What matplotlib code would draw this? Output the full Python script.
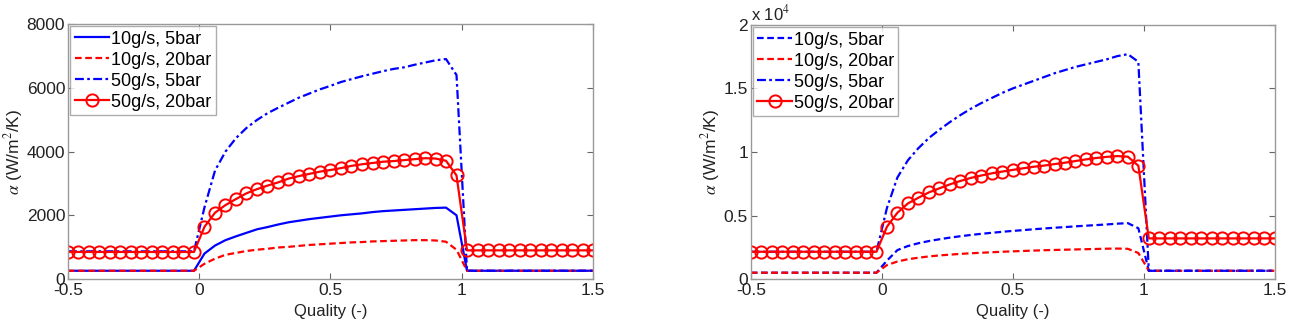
import matplotlib
matplotlib.use("Agg")
import matplotlib.pyplot as plt
import numpy as np

plt.rcParams['font.family'] = ['Liberation Sans', 'DejaVu Sans']
plt.rcParams['mathtext.fontset'] = 'stix'

# --- DATI ---
qualita = np.linspace(-0.5, 1.5, 51)

# pannello sinistro
sx_10g_5bar = [
    260, 260, 260, 260, 260, 260, 260, 260, 260, 260, 260, 260, 260,
    800, 1050, 1220, 1340, 1450, 1560, 1630, 1710, 1780, 1830, 1880, 1920,
    1960, 2000, 2030, 2060, 2100, 2130, 2150, 2170, 2190, 2210, 2230, 2240, 2000,
    260, 260, 260, 260, 260, 260, 260, 260, 260, 260, 260, 260, 260]
sx_10g_20bar = [
    260, 260, 260, 260, 260, 260, 260, 260, 260, 260, 260, 260, 260,
    480, 640, 760, 820, 880, 920, 950, 990, 1010, 1040, 1070, 1090,
    1110, 1130, 1150, 1160, 1180, 1190, 1200, 1210, 1220, 1220, 1210, 1170, 920,
    260, 260, 260, 260, 260, 260, 260, 260, 260, 260, 260, 260, 260]
sx_50g_5bar = [
    870, 870, 870, 870, 870, 870, 870, 870, 870, 870, 870, 870, 870,
    2250, 3400, 4000, 4420, 4740, 4990, 5200, 5370, 5530, 5690, 5820, 5950,
    6060, 6180, 6270, 6360, 6440, 6520, 6590, 6640, 6720, 6790, 6860, 6900, 6400,
    260, 260, 260, 260, 260, 260, 260, 260, 260, 260, 260, 260, 260]
sx_50g_20bar = [
    850, 850, 850, 850, 850, 850, 850, 850, 850, 850, 850, 850, 850,
    1640, 2080, 2320, 2510, 2690, 2820, 2930, 3030, 3150, 3230, 3300, 3370,
    3420, 3480, 3550, 3600, 3640, 3680, 3700, 3730, 3760, 3790, 3780, 3710, 3250,
    900, 900, 900, 900, 900, 900, 900, 900, 900, 900, 900, 900, 900]

# pannello destro
dx_10g_5bar = [
    500, 500, 500, 500, 500, 500, 500, 500, 500, 500, 500, 500, 500,
    1450, 2280, 2600, 2820, 2990, 3130, 3260, 3370, 3470, 3560, 3640, 3720,
    3790, 3850, 3920, 3980, 4040, 4090, 4150, 4200, 4250, 4300, 4360, 4400, 4000,
    650, 650, 650, 650, 650, 650, 650, 650, 650, 650, 650, 650, 650]
dx_10g_20bar = [
    500, 500, 500, 500, 500, 500, 500, 500, 500, 500, 500, 500, 500,
    1100, 1380, 1560, 1680, 1780, 1860, 1920, 1980, 2030, 2070, 2110, 2150,
    2180, 2210, 2240, 2270, 2290, 2310, 2330, 2350, 2370, 2390, 2400, 2380, 2050,
    650, 650, 650, 650, 650, 650, 650, 650, 650, 650, 650, 650, 650]
dx_50g_5bar = [
    2150, 2150, 2150, 2150, 2150, 2150, 2150, 2150, 2150, 2150, 2150, 2150, 2150,
    5600, 8000, 9350, 10300, 11100, 11750, 12350, 12900, 13400, 13850, 14250, 14650,
    15000, 15300, 15600, 15900, 16200, 16450, 16700, 16900, 17100, 17300, 17550, 17700, 17100,
    650, 650, 650, 650, 650, 650, 650, 650, 650, 650, 650, 650, 650]
dx_50g_20bar = [
    2150, 2150, 2150, 2150, 2150, 2150, 2150, 2150, 2150, 2150, 2150, 2150, 2150,
    4120, 5220, 5950, 6400, 6820, 7140, 7450, 7720, 7960, 8150, 8320, 8460,
    8590, 8720, 8840, 8930, 9050, 9160, 9290, 9420, 9530, 9620, 9680, 9630, 8920,
    3200, 3200, 3200, 3200, 3200, 3200, 3200, 3200, 3200, 3200, 3200, 3200, 3200]

etichette = ["10g/s, 5bar", "10g/s, 20bar", "50g/s, 5bar", "50g/s, 20bar"]
x_ticks = [-0.5, 0, 0.5, 1, 1.5]
x_tick_labels = ["-0.5", "0", "0.5", "1", "1.5"]

BLU = '#0000ff'
ROSSO = '#ff0000'
TRATTEGGIO = (0, (3.0, 1.6))
TRATTO_PUNTO = (0, (4.0, 1.5, 1.2, 1.5))
GRIGIO = '#999999'
TESTO = '#222222'


def disegna_pannello(ax, serie, stile_primo, ylim, yticks, ylabels):
    s1, s2, s3, s4 = serie
    ax.plot(qualita, s1, color=BLU, lw=1.6, linestyle=stile_primo)
    ax.plot(qualita, s2, color=ROSSO, lw=1.6, linestyle=TRATTEGGIO)
    ax.plot(qualita, s3, color=BLU, lw=1.6, linestyle=TRATTO_PUNTO)
    ax.plot(qualita, s4, color=ROSSO, lw=1.6, marker='o', markersize=8.8,
            markerfacecolor='none', markeredgewidth=1.4)

    ax.set_xlim(-0.5, 1.5)
    ax.set_ylim(*ylim)
    ax.set_xticks(x_ticks)
    ax.set_xticklabels(x_tick_labels)
    ax.set_yticks(yticks)
    ax.set_yticklabels(ylabels)
    ax.tick_params(direction='in', top=True, right=True, length=4,
                   color='#666666', labelsize=12.5, labelcolor=TESTO, pad=2)
    ax.tick_params(axis='x', pad=3)
    for sp in ax.spines.values():
        sp.set_color(GRIGIO)
        sp.set_linewidth(1.0)

    ax.set_xlabel('Quality (-)', fontsize=12, color=TESTO, labelpad=4)
    ax.set_ylabel(r'$\alpha$ (W/m$^2$/K)', fontsize=12.5, color=TESTO, labelpad=1)

    leg = ax.legend(etichette, loc='upper left', fontsize=13, frameon=True,
                    fancybox=False, borderpad=0.25, labelspacing=0.22,
                    handlelength=1.9, handletextpad=0.1, borderaxespad=0.12)
    leg.get_frame().set_edgecolor(GRIGIO)
    leg.get_frame().set_linewidth(1.0)


fig = plt.figure(figsize=(12.9, 3.33), dpi=100)
ax1 = fig.add_axes([0.0527, 0.162, 0.407, 0.766])
ax2 = fig.add_axes([0.582, 0.162, 0.406, 0.763])

disegna_pannello(ax1, [sx_10g_5bar, sx_10g_20bar, sx_50g_5bar, sx_50g_20bar],
                 '-', (0, 8000), [0, 2000, 4000, 6000, 8000],
                 ['0', '2000', '4000', '6000', '8000'])

disegna_pannello(ax2, [dx_10g_5bar, dx_10g_20bar, dx_50g_5bar, dx_50g_20bar],
                 TRATTEGGIO, (0, 20000), [0, 5000, 10000, 15000, 20000],
                 ['0', '0.5', '1', '1.5', '2'])
ax2.text(0.0, 1.005, r'x 10$^4$', transform=ax2.transAxes, fontsize=12,
         color=TESTO, ha='left', va='bottom')

fig.savefig('out.png', dpi=100)
